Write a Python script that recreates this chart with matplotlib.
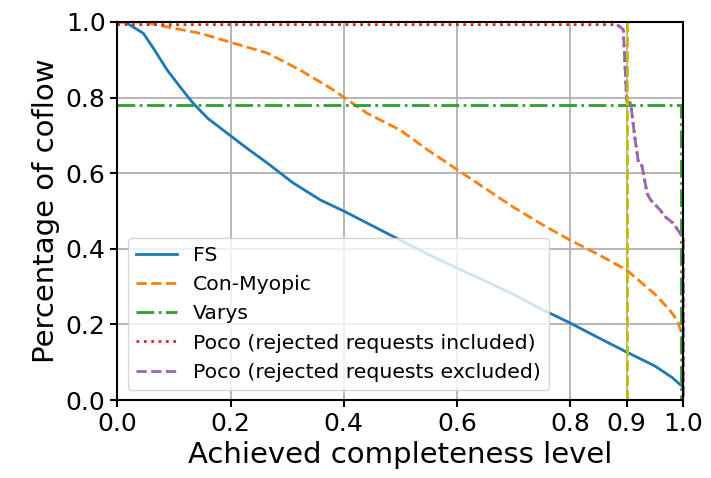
import matplotlib
matplotlib.use("Agg")
import matplotlib.pyplot as plt

# values
fs_x = [0, 0.014, 0.03, 0.046, 0.064, 0.088, 0.11, 0.134, 0.16, 0.194, 0.23, 0.265,
        0.31, 0.359, 0.4, 0.465, 0.5, 0.55, 0.6, 0.65, 0.7, 0.75, 0.8, 0.85, 0.9,
        0.95, 0.98, 1.0]
fs_y = [1.0, 1.0, 0.985, 0.97, 0.93, 0.873, 0.83, 0.785, 0.745, 0.706, 0.665, 0.627,
        0.575, 0.529, 0.50, 0.45, 0.423, 0.385, 0.349, 0.315, 0.28, 0.24, 0.204, 0.165,
        0.127, 0.09, 0.06, 0.034]

myopic_x = [0, 0.046, 0.088, 0.147, 0.205, 0.265, 0.323, 0.382, 0.441, 0.5, 0.55, 0.6,
            0.65, 0.7, 0.75, 0.8, 0.85, 0.9, 0.95, 0.975, 0.99, 0.997, 1.0, 1.0]
myopic_y = [1.0, 1.0, 0.987, 0.97, 0.944, 0.918, 0.873, 0.82, 0.759, 0.714, 0.66, 0.61,
            0.56, 0.51, 0.465, 0.423, 0.385, 0.344, 0.28, 0.24, 0.21, 0.177, 0.15, 0.0]

varys_x = [0, 0.996, 0.996]
varys_y = [0.78, 0.78, 0.0]

poco_in_x = [0, 0.883, 0.894, 0.9, 0.907, 0.915, 0.921, 0.927, 0.936, 0.942, 0.959,
             0.968, 0.982, 0.995, 1.0, 1.0]
poco_in_y = [0.993, 0.993, 0.98, 0.79, 0.785, 0.688, 0.626, 0.62, 0.547, 0.53, 0.503,
             0.485, 0.468, 0.44, 0.43, 0.0]

poco_ex_x = poco_in_x[1:]
poco_ex_y = poco_in_y[1:]

threshold = 0.9
xticks = [0.0, 0.2, 0.4, 0.6, 0.8, 0.9, 1.0]
yticks = [0.0, 0.2, 0.4, 0.6, 0.8, 1.0]

fig = plt.figure(figsize=(7.11, 4.78), dpi=100)
ax = fig.add_axes([0.165, 0.163, 0.796, 0.791])

ax.plot(fs_x, fs_y, color="tab:blue", lw=2, label="FS")
ax.plot(myopic_x, myopic_y, color="tab:orange", lw=2, ls="--", label="Con-Myopic")
ax.plot(varys_x, varys_y, color="tab:green", lw=2, ls="-.", label="Varys", clip_on=False)
ax.plot(poco_in_x, poco_in_y, color="tab:red", lw=2, ls=":",
        label="Poco (rejected requests included)", clip_on=False)
ax.plot(poco_ex_x, poco_ex_y, color="tab:purple", lw=2, ls="--",
        label="Poco (rejected requests excluded)", clip_on=False)
ax.axvline(threshold, color="y", lw=2, ls="--")

ax.set_xlim(0, 1)
ax.set_ylim(0, 1)
ax.set_xticks(xticks)
ax.set_yticks(yticks)
ax.tick_params(labelsize=18, width=1.5, length=5)
for s in ax.spines.values():
    s.set_linewidth(1.5)
ax.set_xlabel("Achieved completeness level", fontsize=21)
ax.set_ylabel("Percentage of coflow", fontsize=21)
ax.grid(True, lw=1.3)
ax.legend(loc="lower left", fontsize=14.7)

fig.savefig("out.png", dpi=100)
